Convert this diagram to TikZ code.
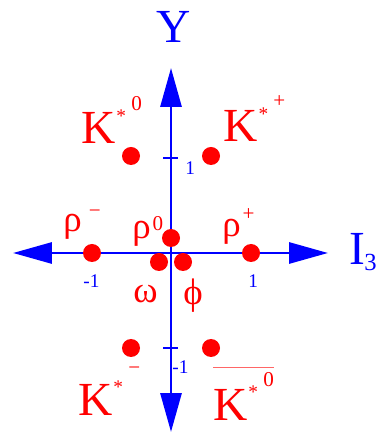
\documentclass[tikz,border=0pt]{standalone}
\usepackage{fontspec}
\setmainfont{Liberation Serif}
\usetikzlibrary{arrows.meta}

% K 加两级上标: K^{*^{#2}}
\newcommand{\kstar}[2][19pt]{K\kern0.5pt\raisebox{12pt}{\fontsize{11}{11}\selectfont *}\kern3pt\raisebox{#1}{\fontsize{12}{12}\selectfont #2}}
% 反粒子横线
\newcommand{\antibar}[1]{\sbox0{#1}\rlap{\raisebox{\dimexpr\ht0+2.5pt\relax}{\color{red!60}\rule{\wd0}{0.7pt}}}\usebox0}

\begin{document}
\begin{tikzpicture}[line join=round,
    axis/.style={line width=1.7pt, blue, {Triangle[length=0.78cm,width=0.42cm]}-{Triangle[length=0.78cm,width=0.42cm]}},
    tickmark/.style={blue, line width=0.9pt},
    meson/.style={circle, fill=red, inner sep=0pt, minimum size=0.36cm},
    lbl/.style={red, inner sep=0pt, anchor=base west, font=\fontsize{27}{30}\selectfont},
    glbl/.style={lbl, font=\fontsize{21}{24}\selectfont},
    num/.style={blue, inner sep=0pt, anchor=base west, font=\fontsize{11}{12}\selectfont}]
    \useasboundingbox (-3.42,-3.64) rectangle (4.12,5.06);

    % 坐标轴端点
    \coordinate (O) at (0,0);
    \coordinate (L) at (-3.16,0);
    \coordinate (R) at (3.14,0);
    \coordinate (T) at (0,3.70);
    \coordinate (B) at (0,-3.58);

    % 1. 坐标轴 I_3 与 Y
    \draw[axis] (L) -- (R);
    \draw[axis] (B) -- (T);
    \node[blue, inner sep=0pt, anchor=base, font=\fontsize{27}{30}\selectfont] (Ylab) at (0.05,4.20) {Y};
    \node[blue, inner sep=0pt, anchor=base west, font=\fontsize{27}{30}\selectfont] (Ilab) at (3.56,-0.24) {I\kern-0.5pt\raisebox{-3pt}{\fontsize{14}{14}\selectfont 3}};

    % 2. 刻度
    \draw[tickmark] (-0.16,1.90) -- (0.14,1.90);
    \draw[tickmark] (-0.16,-1.90) -- (0.14,-1.90);
    \node[num] (ytop) at (0.28,1.56) {1};
    \node[num] (ybot) at (0.02,-2.40) {-1};
    \node[num] (xleft) at (-1.76,-0.70) {-1};
    \node[num] (xright) at (1.54,-0.70) {1};

    % 3. 介子 (红点)
    \node[meson] (Kz) at (-0.80,1.94) {};
    \node[meson] (Kp) at (0.80,1.94) {};
    \node[meson] (rhom) at (-1.58,0) {};
    \node[meson] (rhoz) at (0,0.30) {};
    \node[meson] (rhop) at (1.60,0) {};
    \node[meson] (omega) at (-0.24,-0.18) {};
    \node[meson] (phi) at (0.24,-0.18) {};
    \node[meson] (Km) at (-0.80,-1.90) {};
    \node[meson] (Kzb) at (0.80,-1.90) {};

    % 4. 名称
    \node[lbl] (Kzlab) at (-1.80,2.18) {\kstar{0}};
    \node[lbl] (Kplab) at (1.04,2.22) {\kstar[19.5pt]{+}};
    \node[lbl] (Kmlab) at (-1.86,-3.24) {\kstar[23pt]{−}};
    \node[lbl] (Kzblab) at (0.84,-3.34) {\antibar{\kstar{0}}};
    \node[glbl] (rhomlab) at (-2.16,0.42) {ρ\kern4pt\raisebox{8pt}{\fontsize{12}{12}\selectfont −}};
    \node[glbl] (rhozlab) at (-0.78,0.28) {ρ\kern1pt\raisebox{5pt}{\fontsize{12}{12}\selectfont 0}};
    \node[glbl] (rhoplab) at (1.02,0.32) {ρ\kern1pt\raisebox{9.5pt}{\fontsize{12}{12}\selectfont +}};
    \node[glbl] (omegalab) at (-0.76,-1.00) {ω};
    \node[glbl] (philab) at (0.24,-1.03) {ϕ};
\end{tikzpicture}
\end{document}
